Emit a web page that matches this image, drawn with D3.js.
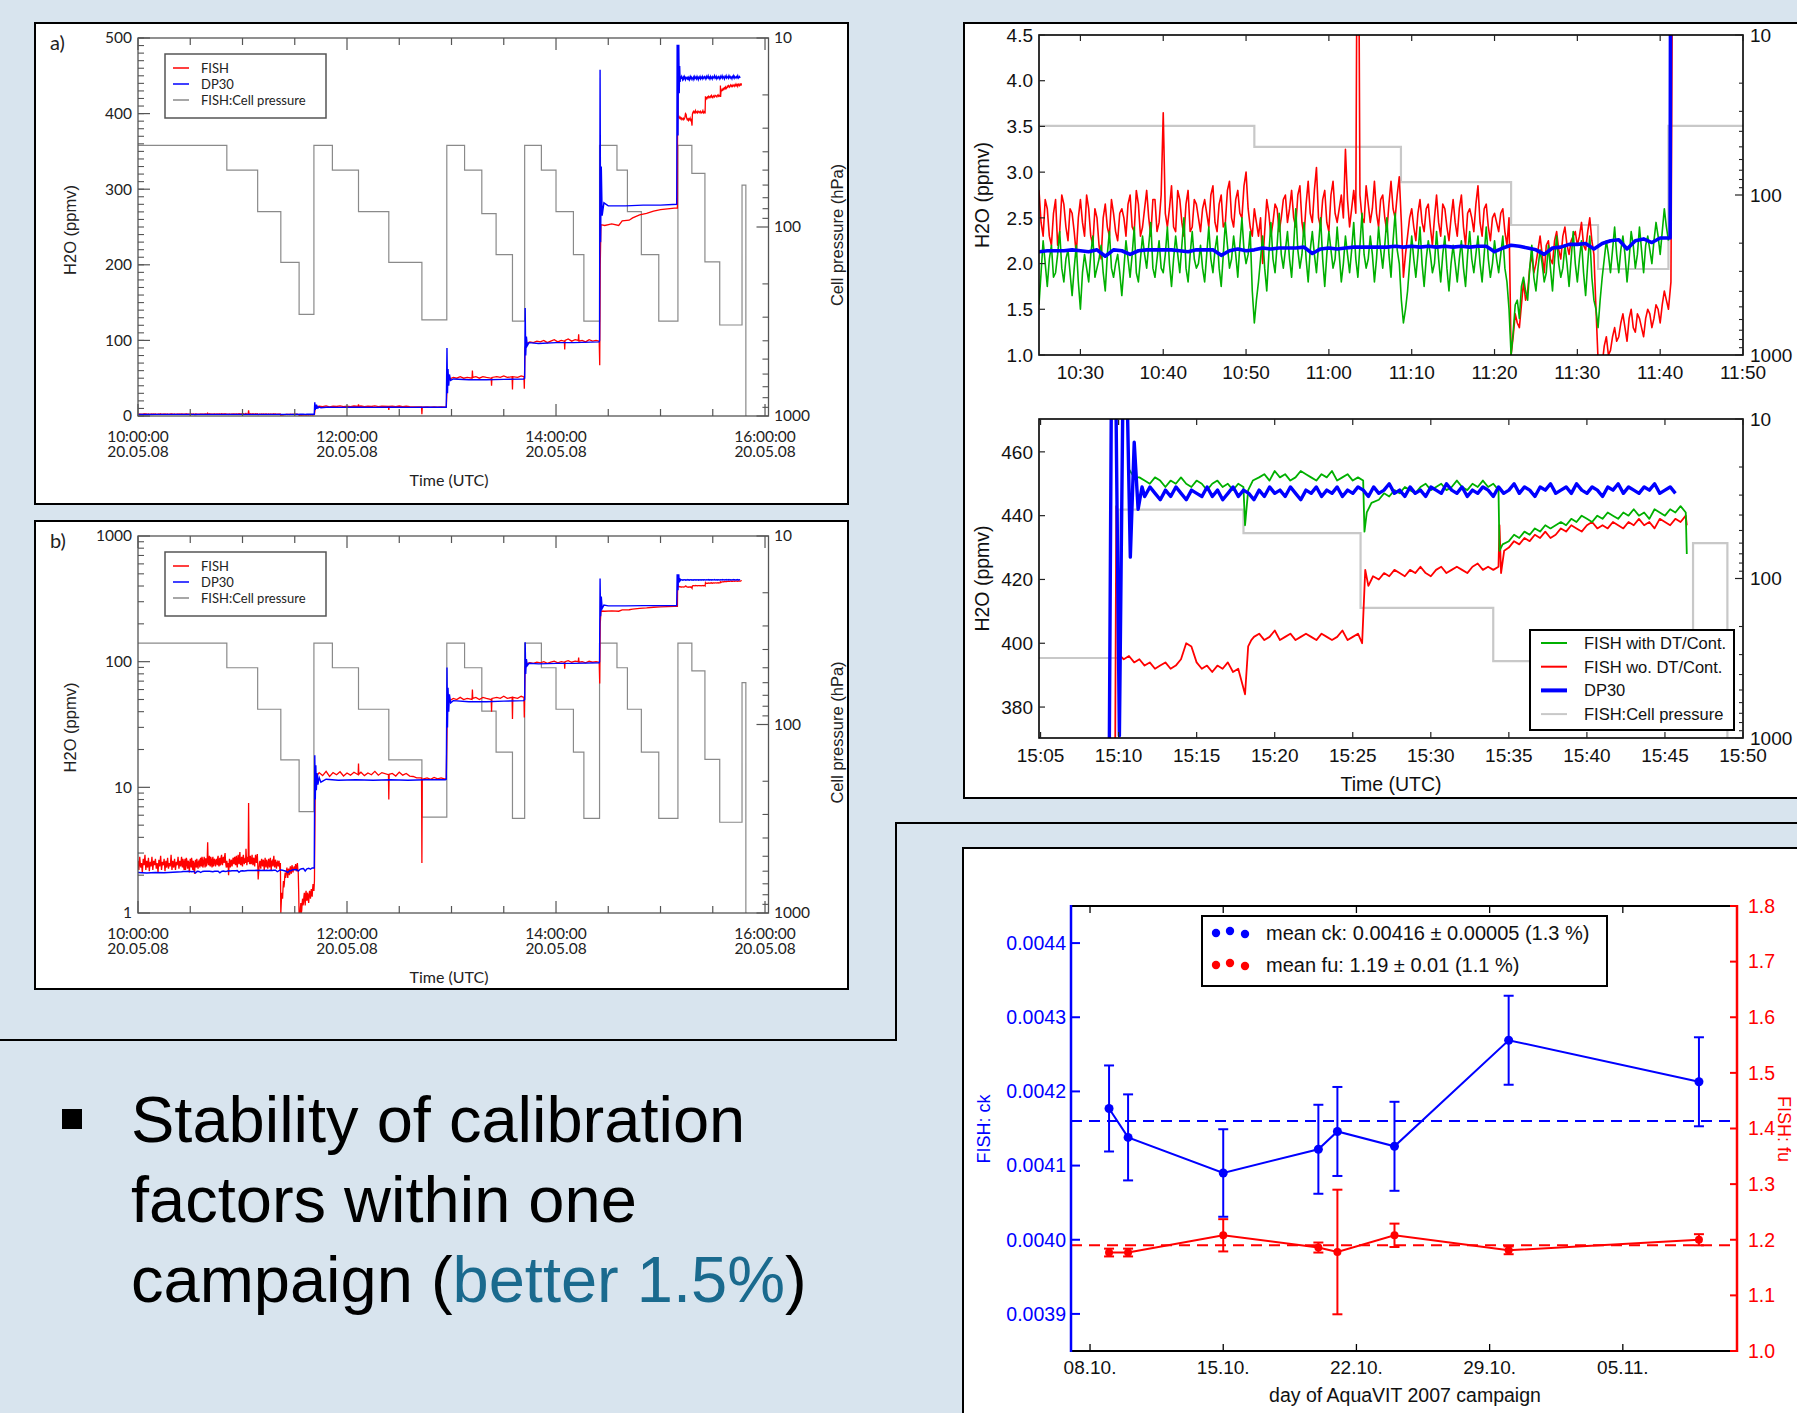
<!DOCTYPE html>
<html>
<head>
<meta charset="utf-8">
<style type="text/css">
body { margin: 0; background: #d8e4ee; }
svg { display: block; }
</style>
</head>
<body>
<script src="https://d3js.org/d3.v7.min.js"></script>
<script type="text/javascript">
// ---- data: time is minutes of day (20.05.08), pressure in hPa, H2O in ppmv ----

// FISH cell pressure steps [minute, hPa]
var pressTimes  = [600, 651, 668.7, 682, 692.5, 701, 711.6, 726.6, 744, 763, 777.3, 787.5, 797.4, 805.6, 815, 822, 831.6, 840, 850, 856, 865, 875, 881, 889, 899, 910, 918, 925.5, 934, 946.8, 949, 949.5];
var pressLevels = [37, 50, 83, 154, 290, 37, 50, 83, 154, 310, 37, 50, 85, 140, 315, 37, 50, 83, 140, 315, 37, 50, 83, 140, 315, 37, 52, 153, 330, 60, 1000, 1000];

// FISH (wo. DT/Cont.) 10:00-10:25, every 30 s
var fishEarly = [2.6, 2.2, 2.8, 2.3, 2.5, 2.1, 2.7, 2.4, 2.9, 2.2, 2.6, 2.3, 2.75, 2.15, 2.55, 2.35, 2.8, 2.2, 2.6, 2.4,
  2.7, 2.25, 2.5, 2.1, 2.65, 2.35, 2.85, 2.2, 2.55, 2.4, 2.7, 2.15, 2.6, 2.3, 2.75, 2.25, 2.5, 2.35, 2.9, 2.2,
  2.6, 2.3, 2.7, 2.2, 2.55, 2.4, 2.8, 2.25, 2.6, 2.35];
// FISH wo. DT/Cont. 10:25-11:41, every 30 s (on the minute and half minute)
var fishC = [2.8, 2.3, 2.6, 2.2, 2.7, 2.35, 2.65, 2.25, 2.55, 2.1, 2.7, 2.3, 2.6, 2.2, 2.5, 2.05, 2.65, 2.3, 2.55, 2.25,
  2.6, 2.3, 2.75, 2.35, 2.65, 2.4, 2.8, 2.3, 2.7, 2.45, 3.65, 2.4, 2.85, 2.35, 2.7, 2.3, 2.8, 2.4, 2.65, 2.35,
  2.7, 2.4, 2.85, 2.35, 2.75, 2.45, 2.9, 2.4, 2.8, 2.5, 3.0, 2.4, 2.6, 2.3, 2.0, 2.7, 2.3, 2.65, 2.35, 2.7,
  2.45, 2.8, 2.4, 2.85, 2.3, 2.9, 2.45, 3.05, 2.4, 2.8, 2.35, 2.9, 2.45, 2.75, 3.25, 2.4, 2.8, 7.5, 2.5, 2.85,
  2.45, 2.9, 2.4, 2.75, 2.35, 2.9, 2.5, 2.95, 1.85, 2.3, 2.6, 2.25, 2.7, 2.35, 2.65, 2.2, 2.75, 2.3, 2.6, 2.25,
  2.7, 2.3, 2.75, 2.2, 2.6, 2.35, 2.85, 2.3, 2.65, 2.25, 2.55, 2.35, 2.6, 2.2, 1.0, 1.45, 1.3, 1.8, 1.7, 2.1,
  2.0, 2.3, 1.9, 2.25, 2.0, 2.35, 2.05, 2.4, 2.1, 2.3, 2.2, 2.45, 2.15, 2.5, 2.1, 0.95, 0.9, 1.2, 1.05, 1.3,
  1.2, 1.45, 1.15, 1.5, 1.25, 1.4, 1.2, 1.5, 1.3, 1.55, 1.35, 1.7, 1.5];
// same, readings in between (10:25:15, 10:25:45, ...)
var fishC2 = [2.45, 2.7, 2.3, 2.55, 2.2, 2.75, 2.4, 2.6, 2.35, 2.5, 2.45, 2.75, 2.3, 2.6, 2.2, 2.5, 2.4, 2.7, 2.35, 2.55,
  2.5, 2.65, 2.4, 2.8, 2.3, 2.6, 2.5, 2.7, 2.35, 2.75, 2.55, 2.6, 2.4, 2.8, 2.45, 2.65, 2.35, 2.7, 2.5, 2.6,
  2.55, 2.75, 2.45, 2.65, 2.4, 2.8, 2.5, 2.7, 2.55, 2.85, 2.6, 2.3, 2.45, 2.5, 2.35, 2.55, 2.45, 2.6, 2.5, 2.75,
  2.6, 2.5, 2.75, 2.45, 2.65, 2.55, 2.8, 2.5, 2.7, 2.45, 2.75, 2.55, 2.6, 2.5, 2.7, 2.6, 2.55, 2.75, 2.45, 2.65,
  2.6, 2.55, 2.7, 2.5, 2.65, 2.6, 2.75, 2.45, 2.1, 2.5, 2.4, 2.55, 2.45, 2.6, 2.4, 2.5, 2.45, 2.65, 2.4, 2.5,
  2.45, 2.6, 2.4, 2.55, 2.5, 2.65, 2.45, 2.6, 2.4, 2.5, 2.45, 2.55, 2.35, 2.5, 1.2, 1.35, 1.55, 1.6, 1.95, 1.9,
  2.15, 2.1, 2.2, 2.05, 2.25, 2.15, 2.3, 2.2, 2.25, 2.35, 2.3, 2.2, 2.35, 2.25, 1.5, 0.9, 1.1, 1.0, 1.2, 1.15,
  1.35, 1.3, 1.4, 1.3, 1.45, 1.3, 1.4, 1.45, 1.4, 1.5, 1.55, 1.6];
// FISH with DT/Cont. 10:25-11:41, every 30 s
var greenC = [1.55, 2.25, 1.75, 2.2, 1.9, 2.35, 1.8, 2.15, 1.65, 2.2, 1.5, 2.1, 1.8, 2.3, 1.95, 2.2, 1.7, 2.35, 1.85, 2.1,
  1.65, 2.25, 1.85, 2.4, 1.8, 2.3, 1.95, 2.45, 1.85, 2.25, 1.9, 2.4, 1.75, 2.3, 1.9, 2.5, 1.8, 2.35, 1.95, 2.2,
  1.8, 2.4, 1.9, 2.3, 1.75, 2.45, 1.95, 2.3, 1.85, 2.5, 2.0, 2.35, 1.35, 1.8, 2.3, 1.7, 2.45, 1.9, 2.55, 1.95,
  2.35, 1.85, 2.6, 1.95, 2.45, 1.8, 2.35, 1.9, 2.5, 1.75, 2.35, 1.95, 2.4, 1.8, 2.3, 1.9, 2.45, 1.85, 2.55, 1.95,
  2.3, 1.8, 2.4, 1.95, 2.5, 1.85, 2.55, 2.0, 1.35, 1.7, 2.3, 1.85, 2.4, 1.75, 2.25, 1.9, 2.35, 1.8, 2.3, 1.7,
  2.2, 1.8, 2.25, 1.75, 2.35, 1.9, 2.3, 1.8, 2.4, 1.85, 2.25, 1.9, 2.3, 1.8, 1.0, 1.55, 1.4, 1.85, 1.6, 2.2,
  1.7, 2.15, 1.8, 2.2, 1.7, 2.3, 1.85, 2.2, 1.75, 2.35, 1.8, 2.25, 1.65, 2.3, 1.6, 1.3, 1.85, 2.25, 1.9, 2.4,
  1.9, 2.3, 1.8, 2.35, 1.95, 2.4, 1.9, 2.3, 2.0, 2.45, 2.1, 2.6, 2.25];
var greenC2 = [1.9, 2.0, 2.05, 1.85, 2.1, 1.95, 2.05, 1.9, 1.95, 1.8, 1.9, 1.95, 2.1, 1.85, 2.05, 1.9, 2.1, 1.95, 2.0, 1.9,
  1.95, 2.05, 2.1, 1.9, 2.05, 2.1, 2.2, 1.95, 2.05, 1.95, 2.1, 2.0, 2.05, 2.1, 2.2, 1.95, 2.1, 2.05, 2.0, 1.95,
  2.1, 2.05, 2.15, 1.95, 2.1, 2.2, 2.05, 2.1, 2.2, 2.15, 2.1, 1.7, 1.6, 2.05, 1.95, 2.1, 2.05, 2.2, 2.1, 2.15,
  2.05, 2.2, 2.15, 2.1, 2.05, 2.15, 2.1, 2.2, 2.05, 2.1, 2.15, 2.05, 2.1, 2.0, 2.1, 2.15, 2.05, 2.2, 2.1, 2.05,
  2.1, 2.05, 2.15, 2.2, 2.1, 2.25, 2.15, 1.6, 1.5, 2.0, 2.05, 2.1, 2.0, 2.05, 2.1, 2.0, 2.05, 2.1, 1.95, 2.0,
  2.0, 2.05, 1.95, 2.1, 2.05, 2.1, 2.0, 2.1, 2.05, 2.0, 2.05, 2.1, 1.95, 1.5, 1.25, 1.6, 1.75, 1.7, 1.95, 1.85,
  1.95, 2.0, 1.9, 1.95, 2.05, 2.0, 1.95, 2.0, 2.05, 2.0, 2.05, 1.9, 2.0, 1.85, 1.5, 1.6, 2.05, 2.1, 2.15, 2.1,
  2.15, 2.1, 2.05, 2.2, 2.1, 2.15, 2.2, 2.15, 2.25, 2.3, 2.35, 2.4];
// DP30 10:25-11:41, every minute
var dpC = [2.13, 2.14, 2.14, 2.14, 2.15, 2.14, 2.13, 2.15, 2.08, 2.15, 2.14, 2.10, 2.14, 2.15, 2.15, 2.15, 2.15, 2.14, 2.13, 2.15,
  2.15, 2.15, 2.09, 2.14, 2.16, 2.14, 2.15, 2.17, 2.16, 2.17, 2.17, 2.17, 2.18, 2.11, 2.16, 2.17, 2.16, 2.17, 2.18, 2.18,
  2.18, 2.18, 2.18, 2.19, 2.18, 2.19, 2.18, 2.19, 2.18, 2.19, 2.18, 2.19, 2.18, 2.19, 2.19, 2.13, 2.17, 2.20, 2.19, 2.17,
  2.15, 2.10, 2.17, 2.18, 2.21, 2.21, 2.22, 2.16, 2.22, 2.25, 2.26, 2.16, 2.25, 2.27, 2.23, 2.28, 2.28];
var dpEarly = [[600, 2.1], [605, 2.08], [610, 2.1], [615, 2.09], [620, 2.11]];

// 11:41 - 15:10, FISH [minute, ppmv]
var fishMid = [[701.3, 1.8], [701.8, 11.5], [702.5, 12.2], [704, 13.1], [706, 12.4], [708, 13.4], [710, 12.2], [712, 13.1],
  [714, 12.6], [716, 13.3], [718, 12.3], [720, 13.0], [722, 12.5], [724, 13.2], [726.4, 12.6], [726.6, 15.5], [726.8, 12.7],
  [728, 13.2], [730, 12.4], [732, 13.0], [734, 12.6], [736, 13.4], [738, 12.5], [740, 13.1], [743.8, 12.6], [744, 8.0],
  [744.2, 12.7], [746, 12.9], [748, 12.3], [750, 13.2], [752, 12.5], [754, 12.9], [756, 12.3], [758, 12.2], [760, 11.9],
  [762.8, 11.9], [763, 2.5], [763.2, 11.6], [766, 11.9], [768, 11.6], [770, 12.0], [772, 11.7], [774, 11.9], [776.5, 11.6],
  [777, 11.8], [777.6, 45], [779, 49], [781, 51], [783, 50], [785, 52], [787, 50], [789, 51], [791.8, 50], [792, 60],
  [792.2, 51], [794, 52], [796, 50], [798, 52], [800, 51], [802.8, 50], [803, 40], [803.2, 51], [806, 52], [808, 51],
  [810, 53], [812, 51], [814.8, 52], [815, 35], [815.2, 52], [818, 51], [820, 53], [821.6, 52], [821.8, 36],
  [822.2, 90], [823, 96], [825, 98], [827, 97], [829, 99], [831, 98], [833, 100], [835, 97], [837, 99], [839, 101],
  [841, 98], [843, 100], [844.8, 99], [845, 88], [845.2, 100], [847, 102], [849, 99], [851, 101], [852.8, 100],
  [853, 108], [853.2, 99], [855, 100], [857, 98], [859, 101], [861, 99], [863, 100], [864.8, 99], [865.1, 67],
  [865.4, 200], [865.8, 253], [868, 252], [872, 254], [876, 252], [878, 258], [882, 259], [884, 262], [888, 266],
  [892, 268], [896, 271], [900, 273], [904, 274], [908, 275], [909.7, 275]];
// 11:41 - 15:10, DP30
var dpMid = [[701.2, 2.28], [701.5, 18], [701.8, 8], [702.1, 15], [702.4, 9.5], [702.8, 13], [703.3, 10.5], [704, 12],
  [705, 11], [708, 11.6], [715, 11.4], [725, 11.5], [735, 11.4], [745, 11.5], [755, 11.4], [765, 11.5], [776.5, 11.5],
  [777, 11.6], [777.4, 90], [777.7, 30], [778, 62], [778.4, 40], [778.8, 55], [779.5, 47], [781, 49], [790, 48],
  [800, 48], [810, 48.5], [821.5, 49], [822, 50], [822.3, 143], [822.6, 80], [823, 105], [823.5, 93], [824.5, 97],
  [830, 96], [840, 97], [850, 97], [864.8, 98], [865, 100], [865.3, 458], [865.6, 230], [866, 330], [866.5, 265],
  [867.5, 282], [870, 278], [880, 278], [890, 279], [900, 279], [909.3, 280]];

// 15:10 - 15:47, every 20 s
var redD1 = [395, 396, 394, 395, 393, 394, 392, 393, 394, 392, 393, 395, 400, 399, 394, 392, 393, 391, 393, 392, 394, 391, 392];
var redD2 = [402, 403, 401, 402, 404, 401, 402, 403, 401, 402, 403, 402, 401, 403, 402, 401, 402, 404, 401, 402, 403];
var redD3 = [420, 422, 421, 423, 422, 421, 423, 422, 424, 422, 421, 423, 424, 422, 423, 424, 423, 422, 424, 425, 423, 424, 423, 424];
var redD4 = [430, 432, 431, 433, 432, 434, 433, 435, 433, 434, 436, 435, 437, 436, 435, 437, 438, 436, 437, 436, 438, 437,
  436, 438, 437, 439, 437, 438, 436, 439, 438, 437, 439, 438, 440];
var greenD1 = [452, 451, 450, 452, 451, 449, 451, 450, 452, 450, 449, 451, 450, 448, 450, 451, 449, 450, 448, 450, 449];
var greenD2 = [452, 453, 451, 454, 452, 453, 451, 452, 454, 453, 452, 451, 453, 452, 454, 451, 452, 453, 451, 452, 451];
var greenD3 = [445, 447, 446, 448, 447, 449, 448, 447, 449, 450, 448, 449, 450, 448, 449, 451, 449, 448, 450, 449, 451, 449, 450, 448];
var greenD4 = [432, 434, 433, 435, 434, 436, 435, 437, 436, 437, 438, 437, 439, 438, 440, 439, 438, 440, 439, 441, 440, 439,
  441, 440, 442, 440, 441, 439, 442, 441, 440, 442, 441, 443, 441];
var blueD1 = [446, 449, 447, 445, 448, 446, 449, 447, 445, 448, 447, 446, 449, 446, 448, 445, 447, 449, 446, 448,
  447, 445, 448, 446, 449, 447, 448, 446, 449, 447, 445, 448, 447, 449, 446, 448, 447, 449, 446, 448,
  447, 449, 448, 446, 449, 447, 448, 450, 447, 448, 446, 449, 447, 448, 446, 449, 448, 447, 450, 448,
  447, 449, 446, 448, 447, 449, 448, 446, 449, 447, 448, 450, 447, 449, 448, 446, 449, 448, 450, 447,
  448, 449, 447, 450, 448, 447, 449, 448, 446, 449, 448, 450, 447, 449, 448, 447, 449, 448, 450, 447,
  448, 449, 447];

var fishD = [].concat([[909.85, 443], [910.1, 396]], reg(910.33, 1 / 3, redD1),
  [[918.1, 384], [918.3, 399], [918.5, 401]], reg(918.67, 1 / 3, redD2),
  [[925.6, 400], [925.8, 423], [926, 418], [926.3, 421]], reg(926.67, 1 / 3, redD3),
  [[934.4, 437], [934.5, 422], [934.7, 429]], reg(935, 1 / 3, redD4), [[946.4, 437]]);
var greenD = [].concat([[910.6, 455], [911, 452]], reg(911.33, 1 / 3, greenD1),
  [[918.1, 437], [918.3, 448], [918.6, 451]], reg(919, 1 / 3, greenD2),
  [[925.75, 435], [925.9, 441], [926.2, 444]], reg(926.67, 1 / 3, greenD3),
  [[934.4, 429], [934.6, 431]], reg(935, 1 / 3, greenD4), [[946.4, 428]]);
var dpD = [].concat([[909.55, 490], [909.8, 490], [910.05, 371], [910.3, 490], [910.5, 490], [910.75, 427],
  [911.0, 463], [911.25, 442], [911.5, 449]], reg(911.67, 1 / 3, blueD1));

var fishCPts = byTime(reg(625, 0.5, fishC).concat(reg(625.25, 0.5, fishC2)));
var greenCPts = byTime(reg(625, 0.5, greenC).concat(reg(625.25, 0.5, greenC2)));
var fishAll = [].concat(reg(600, 0.5, fishEarly), fishCPts, fishMid, fishD);
var dpAll = [].concat(dpEarly, reg(625, 1, dpC), dpMid, dpD);
var pressSteps = pressTimes.map(function(t, i) { return [t, pressLevels[i]]; });

// calibration factors (day of October; 40 = 09.11.)
var calDays = [9, 10, 15, 20, 21, 24, 30, 40];
var ckVals = [0.004177, 0.004138, 0.00409, 0.004122, 0.004146, 0.004126, 0.004269, 0.004213];
var ckErr = [0.000058, 0.000058, 0.000059, 0.00006, 0.00006, 0.00006, 0.00006, 0.00006];
var fuVals = [1.177, 1.177, 1.208, 1.186, 1.178, 1.208, 1.181, 1.2];
var fuErr = [0.007, 0.007, 0.029, 0.009, 0.112, 0.021, 0.007, 0.01];
var ckMean = 0.00416, fuMean = 1.19;

// ticks
var dayTicks = [600, 720, 840, 960];
var dayTickLabels = ['10:00:00', '12:00:00', '14:00:00', '16:00:00'];
var dayDate = '20.05.08';
var aYTicks = [0, 100, 200, 300, 400, 500];
var bYTicks = [1, 10, 100, 1000];
var pressTicks = [10, 100, 1000];
var cXTicks = [630, 640, 650, 660, 670, 680, 690, 700, 710];
var cYTicks = [1.0, 1.5, 2.0, 2.5, 3.0, 3.5, 4.0, 4.5];
var dXTicks = [905, 910, 915, 920, 925, 930, 935, 940, 945, 950];
var dYTicks = [380, 400, 420, 440, 460];
var calTicks = [8, 15, 22, 29, 36];
var calTickLabels = ['08.10.', '15.10.', '22.10.', '29.10.', '05.11.'];
var ckTicks = [0.0039, 0.0040, 0.0041, 0.0042, 0.0043, 0.0044];
var fuTicks = [1.0, 1.1, 1.2, 1.3, 1.4, 1.5, 1.6, 1.7, 1.8];

function reg(start, step, vals) {
  return vals.map(function(v, i) { return [start + i * step, v]; });
}
function byTime(pts) {
  return pts.sort(function(a, b) { return a[0] - b[0]; });
}
function hm(m) {
  var h = Math.floor(m / 60), mm = Math.round(m % 60);
  return h + ':' + (mm < 10 ? '0' : '') + mm;
}

var FA = "Lato, 'Open Sans', sans-serif";
var FH = "'Liberation Sans', Arial, Helvetica, sans-serif";
var RED = '#ff0000', BLUE = '#0000ff', GREEN = '#00b000';

var svg = d3.select('body').append('svg')
  .attr('width', 1797).attr('height', 1413)
  .style('font-family', FH);
var defs = svg.append('defs');

svg.append('rect').attr('width', 1797).attr('height', 1413).attr('fill', '#d8e4ee');

// slide frames
function frame(x0, y0, x1, y1) {
  svg.append('rect').attr('x', x0).attr('y', y0).attr('width', x1 - x0).attr('height', y1 - y0)
    .attr('fill', 'white').attr('stroke', 'black').attr('stroke-width', 2);
}
svg.append('path').attr('d', 'M0,1040H896V823H1800').attr('fill', 'none').attr('stroke', 'black').attr('stroke-width', 2);
frame(35, 23, 848, 504);
frame(35, 521, 848, 989);
frame(964, 23, 1810, 798);
frame(963, 848, 1810, 1430);

function clip(id, x, y, w, h) {
  defs.append('clipPath').attr('id', id).append('rect')
    .attr('x', x).attr('y', y).attr('width', w).attr('height', h);
  return 'url(#' + id + ')';
}
function tick(g, x1, y1, x2, y2, col, w) {
  g.append('line').attr('x1', x1).attr('y1', y1).attr('x2', x2).attr('y2', y2)
    .attr('stroke', col).attr('stroke-width', w || 1);
}
function logMinor(lo, hi) {
  var out = [];
  for (var d = lo; d < hi; d *= 10) for (var k = 2; k < 10; k++) out.push(d * k);
  return out;
}

// ---------- panels a) and b) ----------
function dayPanel(cfg) {
  var L = 138, R = 768.5, T = cfg.top, B = cfg.bottom;
  var x = d3.scaleLinear().domain([600, 962]).range([L, R]);
  var y = cfg.log ? d3.scaleLog().domain([1, 1000]).range([B, T]) : d3.scaleLinear().domain([0, 500]).range([B, T]);
  var yp = d3.scaleLog().domain([10, 1000]).range([T, B]);
  var g = svg.append('g').style('font-family', FA).style('fill', '#222');
  var plot = g.append('g').attr('clip-path', clip('clip' + cfg.name, L, T, R - L, B - T));
  var line = function(ys) { return d3.line().x(function(d) { return x(d[0]); }).y(function(d) { return ys(d[1]); }); };

  plot.append('path').datum(pressSteps)
    .attr('d', line(yp).curve(d3.curveStepAfter))
    .attr('fill', 'none').attr('stroke', '#8a8a8a').attr('stroke-width', 1.2);
  plot.append('path').datum(fishAll).attr('d', line(y))
    .attr('fill', 'none').attr('stroke', RED).attr('stroke-width', 1.3);
  plot.append('path').datum(dpAll).attr('d', line(y))
    .attr('fill', 'none').attr('stroke', BLUE).attr('stroke-width', 1.4);

  g.append('rect').attr('x', L).attr('y', T).attr('width', R - L).attr('height', B - T)
    .attr('fill', 'none').attr('stroke', '#555').attr('stroke-width', 1.3);

  // time ticks
  d3.range(600, 961, 30).forEach(function(t) {
    var len = dayTicks.indexOf(t) >= 0 ? 12 : 7;
    tick(g, x(t), B, x(t), B - len, '#555', 1.2);
    tick(g, x(t), T, x(t), T + len, '#555', 1.2);
  });
  dayTicks.forEach(function(t, i) {
    var tx = g.append('text').attr('x', x(t)).attr('y', B + 26).attr('text-anchor', 'middle').style('font-size', '15.5px');
    tx.append('tspan').attr('x', x(t)).text(dayTickLabels[i]);
    tx.append('tspan').attr('x', x(t)).attr('dy', 15).text(dayDate);
  });

  // left axis
  var major = cfg.log ? bYTicks : aYTicks;
  var minor = cfg.log ? logMinor(1, 1000) : d3.range(0, 501, 10);
  minor.forEach(function(v) { tick(g, L, y(v), L + 6, y(v), '#555', 1.1); });
  major.forEach(function(v) {
    tick(g, L, y(v), L + 12, y(v), '#555', 1.2);
    g.append('text').attr('x', 132).attr('y', y(v)).attr('dy', '0.35em').attr('text-anchor', 'end')
      .style('font-size', '15.5px').text(v);
  });
  // right axis (cell pressure)
  logMinor(10, 1000).forEach(function(v) { tick(g, R, yp(v), R - 6, yp(v), '#555', 1.1); });
  pressTicks.forEach(function(v) {
    tick(g, R, yp(v), R - 12, yp(v), '#555', 1.2);
    g.append('text').attr('x', 774).attr('y', yp(v)).attr('dy', '0.35em').style('font-size', '15.5px').text(v);
  });

  g.append('text').attr('x', 50).attr('y', T + 12).style('font-size', '20px').text(cfg.name + ')');
  g.append('text').attr('x', 449).attr('y', B + 70).attr('text-anchor', 'middle').style('font-size', '16px').text('Time (UTC)');
  g.append('text').attr('transform', 'translate(76,' + ((T + B) / 2 + 3) + ') rotate(-90)')
    .attr('text-anchor', 'middle').style('font-family', FH).style('font-size', '16.5px').text('H2O (ppmv)');
  g.append('text').attr('transform', 'translate(843,' + ((T + B) / 2 + 8) + ') rotate(-90)')
    .attr('text-anchor', 'middle').style('font-family', FH).style('font-size', '16.5px').text('Cell pressure (hPa)');

  // legend
  var lg = g.append('g').attr('transform', 'translate(165,' + (T + 16) + ')');
  lg.append('rect').attr('width', 161).attr('height', 64).attr('fill', 'white').attr('stroke', '#555').attr('stroke-width', 1.5);
  [['FISH', RED], ['DP30', BLUE], ['FISH:Cell pressure', '#8a8a8a']].forEach(function(e, i) {
    var yy = 14 + i * 16;
    tick(lg, 8, yy, 24, yy, e[1], 1.5);
    lg.append('text').attr('x', 36).attr('y', yy).attr('dy', '0.35em').style('font-size', '13px').text(e[0]);
  });
}
dayPanel({ name: 'a', top: 38, bottom: 416, log: false });
dayPanel({ name: 'b', top: 536, bottom: 913, log: true });

// ---------- zoomed panels (top right) ----------
function zoomPanel(cfg) {
  var L = 1039, R = 1743, T = cfg.top, B = cfg.bottom;
  var x = d3.scaleLinear().domain(cfg.xd).range([L, R]);
  var y = d3.scaleLinear().domain(cfg.yd).range([B, T]);
  var yp = d3.scaleLog().domain([10, 1000]).range([T, B]);
  var g = svg.append('g').style('font-family', FH).style('fill', '#111');
  var plot = g.append('g').attr('clip-path', clip('clip' + cfg.name, L, T, R - L, B - T));
  var line = function(ys) { return d3.line().x(function(d) { return x(d[0]); }).y(function(d) { return ys(d[1]); }); };

  plot.append('path').datum(pressSteps).attr('d', line(yp).curve(d3.curveStepAfter))
    .attr('fill', 'none').attr('stroke', '#c8c8c8').attr('stroke-width', 2.2);
  cfg.series.forEach(function(s) {
    plot.append('path').datum(s.data).attr('d', line(y))
      .attr('fill', 'none').attr('stroke', s.color).attr('stroke-width', s.w).attr('stroke-linejoin', 'round');
  });

  g.append('rect').attr('x', L).attr('y', T).attr('width', R - L).attr('height', B - T)
    .attr('fill', 'none').attr('stroke', 'black').attr('stroke-width', 1.6);

  cfg.xTicks.forEach(function(t) {
    tick(g, x(t), B, x(t), B - 6, '#222', 1.2);
    tick(g, x(t), T, x(t), T + 6, '#222', 1.2);
    g.append('text').attr('x', x(t)).attr('y', B + 24).attr('text-anchor', 'middle').style('font-size', '19px').text(hm(t));
  });
  cfg.yTicks.forEach(function(v) {
    tick(g, L, y(v), L + 6, y(v), '#222', 1.2);
    g.append('text').attr('x', 1033).attr('y', y(v)).attr('dy', '0.35em').attr('text-anchor', 'end')
      .style('font-size', '19px').text(cfg.fmt(v));
  });
  logMinor(10, 1000).forEach(function(v) { tick(g, R, yp(v), R - 4, yp(v), '#222', 1.1); });
  pressTicks.forEach(function(v) {
    tick(g, R, yp(v), R - 8, yp(v), '#222', 1.2);
    g.append('text').attr('x', 1750).attr('y', yp(v)).attr('dy', '0.35em').style('font-size', '19px').text(v);
  });
  g.append('text').attr('transform', 'translate(989,' + ((T + B) / 2) + ') rotate(-90)')
    .attr('text-anchor', 'middle').style('font-size', '19.5px').text('H2O (ppmv)');
  return g;
}

zoomPanel({
  name: 'c', top: 35, bottom: 355, xd: [625, 710], yd: [1.0, 4.5],
  xTicks: cXTicks, yTicks: cYTicks, fmt: function(v) { return v.toFixed(1); },
  series: [{ data: fishAll, color: RED, w: 1.6 }, { data: greenCPts, color: GREEN, w: 1.6 }, { data: dpAll, color: BLUE, w: 3.6 }]
});
var gd = zoomPanel({
  name: 'd', top: 419, bottom: 738, xd: [904.9, 950], yd: [370.3, 470.3],
  xTicks: dXTicks, yTicks: dYTicks, fmt: function(v) { return v; },
  series: [{ data: fishAll, color: RED, w: 1.8 }, { data: greenD, color: GREEN, w: 1.8 }, { data: dpAll, color: BLUE, w: 3.4 }]
});
gd.append('text').attr('x', 1391).attr('y', 791).attr('text-anchor', 'middle').style('font-size', '19.5px').text('Time (UTC)');
var lgd = gd.append('g').attr('transform', 'translate(1530,630)');
lgd.append('rect').attr('width', 204).attr('height', 100).attr('fill', 'white').attr('stroke', 'black').attr('stroke-width', 2);
[['FISH with DT/Cont.', GREEN, 2], ['FISH wo. DT/Cont.', RED, 2], ['DP30', BLUE, 4], ['FISH:Cell pressure', '#c8c8c8', 2]].forEach(function(e, i) {
  var yy = 13 + i * 23.7;
  tick(lgd, 11, yy, 37, yy, e[1], e[2]);
  lgd.append('text').attr('x', 54).attr('y', yy).attr('dy', '0.36em').style('font-size', '16.5px').text(e[0]);
});

// ---------- calibration factors (bottom right) ----------
(function() {
  var L = 1071, R = 1737, T = 906, B = 1351;
  var x = d3.scaleLinear().domain([7, 42]).range([L, R]);
  var yc = d3.scaleLinear().domain([0.00385, 0.00445]).range([B, T]);
  var yf = d3.scaleLinear().domain([1.0, 1.8]).range([B, T]);
  var g = svg.append('g').style('font-family', FH);

  // mean lines
  g.append('line').attr('x1', L).attr('x2', R).attr('y1', yc(ckMean)).attr('y2', yc(ckMean))
    .attr('stroke', BLUE).attr('stroke-width', 2).attr('stroke-dasharray', '11,7');
  g.append('line').attr('x1', L).attr('x2', R).attr('y1', yf(fuMean)).attr('y2', yf(fuMean))
    .attr('stroke', RED).attr('stroke-width', 2).attr('stroke-dasharray', '11,7');

  function series(vals, errs, ys, col, r) {
    g.append('path').datum(vals).attr('fill', 'none').attr('stroke', col).attr('stroke-width', 2)
      .attr('d', d3.line().x(function(d, i) { return x(calDays[i]); }).y(function(d) { return ys(d); }));
    vals.forEach(function(v, i) {
      var cx = x(calDays[i]);
      tick(g, cx, ys(v - errs[i]), cx, ys(v + errs[i]), col, 2);
      tick(g, cx - 5, ys(v - errs[i]), cx + 5, ys(v - errs[i]), col, 2);
      tick(g, cx - 5, ys(v + errs[i]), cx + 5, ys(v + errs[i]), col, 2);
      g.append('circle').attr('cx', cx).attr('cy', ys(v)).attr('r', r).attr('fill', col);
    });
  }
  series(fuVals, fuErr, yf, RED, 4);
  series(ckVals, ckErr, yc, BLUE, 4.5);

  // frame: black top/bottom, coloured sides
  tick(g, L, T, R, T, 'black', 2);
  tick(g, L, B, R, B, 'black', 2);
  tick(g, L, T - 1, L, B + 1, BLUE, 2.5);
  tick(g, R, T - 1, R, B + 1, RED, 2.5);

  calTicks.forEach(function(t, i) {
    tick(g, x(t), B, x(t), B - 7, 'black', 1.3);
    tick(g, x(t), T, x(t), T + 7, 'black', 1.3);
    g.append('text').attr('x', x(t)).attr('y', 1374).attr('text-anchor', 'middle').style('font-size', '19px')
      .attr('fill', '#111').text(calTickLabels[i]);
  });
  ckTicks.forEach(function(v) {
    tick(g, L, yc(v), L + 9, yc(v), BLUE, 2);
    g.append('text').attr('x', 1066).attr('y', yc(v)).attr('dy', '0.35em').attr('text-anchor', 'end')
      .style('font-size', '19.5px').attr('fill', BLUE).text(v.toFixed(4));
  });
  fuTicks.forEach(function(v) {
    tick(g, R, yf(v), R - 7, yf(v), RED, 2);
    g.append('text').attr('x', 1748).attr('y', yf(v)).attr('dy', '0.35em')
      .style('font-size', '19.5px').attr('fill', RED).text(v.toFixed(1));
  });
  g.append('text').attr('x', 1405).attr('y', 1402).attr('text-anchor', 'middle').style('font-size', '19.5px')
    .attr('fill', '#111').text('day of AquaVIT 2007 campaign');
  g.append('text').attr('transform', 'translate(990,1129) rotate(-90)').attr('text-anchor', 'middle')
    .style('font-size', '18px').attr('fill', BLUE).text('FISH: ck');
  g.append('text').attr('transform', 'translate(1778,1129) rotate(90)').attr('text-anchor', 'middle')
    .style('font-size', '18px').attr('fill', RED).text('FISH: fu');

  var lg = g.append('g').attr('transform', 'translate(1202,916)');
  lg.append('rect').attr('width', 405).attr('height', 70).attr('fill', 'white').attr('stroke', 'black').attr('stroke-width', 2);
  [['mean ck: 0.00416 \u00b1 0.00005 (1.3 %)', BLUE], ['mean fu: 1.19 \u00b1 0.01 (1.1 %)', RED]].forEach(function(e, i) {
    var yy = 17 + i * 32;
    [[14, 0], [28, -2], [43, 1]].forEach(function(p) {
      lg.append('circle').attr('cx', p[0]).attr('cy', yy + p[1]).attr('r', 4.2).attr('fill', e[1]);
    });
    lg.append('text').attr('x', 64).attr('y', yy).attr('dy', '0.36em').style('font-size', '20px').attr('fill', '#111').text(e[0]);
  });
})();

// ---------- slide text ----------
svg.append('rect').attr('x', 62).attr('y', 1109).attr('width', 20).attr('height', 20).attr('fill', 'black');
var st = svg.append('text').style('font-size', '65px').attr('fill', 'black');
st.append('tspan').attr('x', 131).attr('y', 1142).text('Stability of calibration');
st.append('tspan').attr('x', 131).attr('y', 1222).text('factors within one');
var l3 = st.append('tspan').attr('x', 131).attr('y', 1302);
l3.append('tspan').text('campaign (');
l3.append('tspan').attr('fill', '#1a6a8e').text('better 1.5%');
l3.append('tspan').text(')');
</script>
</body>
</html>
